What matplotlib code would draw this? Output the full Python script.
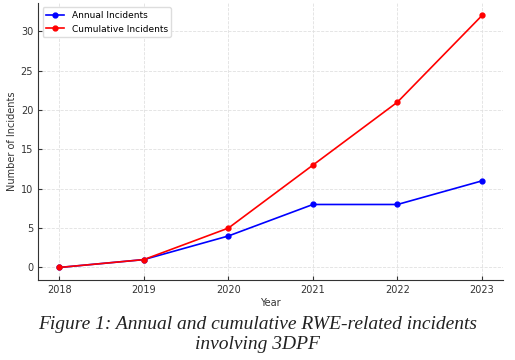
import numpy as np
import matplotlib.pyplot as plt

years = [2018, 2019, 2020, 2021, 2022, 2023]
annual = [0, 1, 4, 8, 8, 11]
cumulative = [0, 1, 5, 13, 21, 32]

fig = plt.figure(figsize=(5.15, 3.6), dpi=100)
ax = fig.add_axes([0.074, 0.222, 0.903, 0.77])

ax.plot(years, annual, 'o-', color='blue', lw=1.2, ms=3.5, label='Annual Incidents')
ax.plot(years, cumulative, 'o-', color='red', lw=1.2, ms=3.5, label='Cumulative Incidents')

ax.set_xlabel('Year', fontsize=7, color='#333333', labelpad=2)
ax.set_ylabel('Number of Incidents', fontsize=7, color='#333333', labelpad=3)
ax.set_yticks([0, 5, 10, 15, 20, 25, 30])
ax.tick_params(direction='in', labelsize=7, labelcolor='#333333', color='#333333', length=3)
ax.grid(True, color='#e0e0e0', lw=0.6, ls='--')
for s in ['top', 'right']:
    ax.spines[s].set_visible(False)
for s in ['left', 'bottom']:
    ax.spines[s].set_color('#333333')
ax.legend(loc='upper left', fontsize=6.5, framealpha=1, edgecolor='#dddddd')

fig.text(0.5, 0.02, 'Figure 1: Annual and cumulative RWE-related incidents\ninvolving 3DPF',
         ha='center', va='bottom', fontsize=14, style='italic', family='Liberation Serif',
         color='#222222', linespacing=1.2)

fig.savefig('out.png', dpi=100)
